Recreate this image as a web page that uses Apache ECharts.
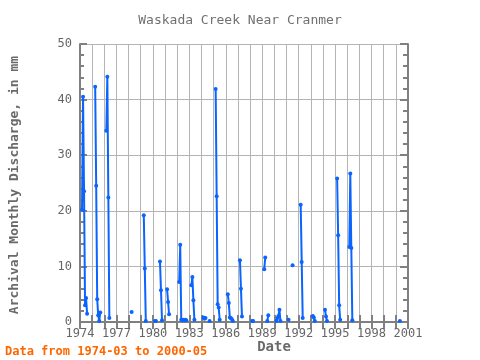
<!DOCTYPE html>
<html>
<head>
<meta charset="utf-8">
<script src="https://cdn.jsdelivr.net/npm/echarts@6/dist/echarts.min.js"></script>
<style>
html,body{margin:0;padding:0;background:#fff;}
#c{width:480px;height:360px;}
</style>
</head>
<body>
<div id="c"></div>
<script>
// Monthly observations (YYYY-MM) and discharge values (mm)
var months = [
  '1974-03','1974-04','1974-05','1974-06','1974-07','1974-08',
  '1975-04','1975-05','1975-06','1975-07','1975-08','1975-09',
  '1976-03','1976-04','1976-05','1976-06',
  '1978-04',
  '1979-04','1979-05','1979-06',
  '1980-03','1980-04','1980-08','1980-09','1980-10',
  '1981-03','1981-04','1981-05',
  '1982-03','1982-04','1982-05','1982-06','1982-07','1982-08','1982-09','1982-10',
  '1983-03','1983-04','1983-05','1983-06',
  '1984-03','1984-04','1984-05','1984-09',
  '1985-03','1985-04','1985-05','1985-06','1985-07',
  '1986-03','1986-04','1986-05','1986-06','1986-07','1986-08',
  '1987-03','1987-04','1987-05',
  '1988-03','1988-04',
  '1989-03','1989-04','1989-06','1989-07',
  '1990-03','1990-04','1990-05','1990-06','1990-07',
  '1991-03','1991-07',
  '1992-03','1992-04','1992-05',
  '1993-03','1993-04','1993-05',
  '1994-03','1994-04','1994-05',
  '1995-03','1995-04','1995-05','1995-06',
  '1996-03','1996-04','1996-05','1996-06',
  '2000-05'
];
var discharge = [
  20.2,40.5,23.5,3.0,4.3,1.5,
  42.3,24.5,4.1,1.2,0.2,1.7,
  34.4,44.1,22.4,0.7,
  1.8,
  19.2,9.6,0.2,
  0.2,0.2,10.9,5.7,0.3,
  5.9,3.6,1.4,
  7.2,13.9,0.4,0.3,0.4,0.3,0.4,0.3,
  6.6,8.1,3.9,0.4,
  0.8,0.6,0.7,0.2,
  41.9,22.6,3.2,2.6,0.4,
  5.0,3.4,0.8,0.7,0.5,0.2,
  11.1,6.0,1.0,
  0.2,0.2,
  9.5,11.6,0.2,1.2,
  0.2,0.7,1.1,2.2,0.2,
  0.4,10.2,
  21.1,10.8,0.7,
  1.1,0.8,0.2,
  2.2,1.0,0.2,
  25.8,15.6,3.0,0.4,
  13.5,26.7,13.3,0.3,
  0.2
];
var yTicks = [0,10,20,30,40,50];
var xStart = 1974, xEnd = 2001, xLabelStep = 3;
var titleText = 'Waskada Creek Near Cranmer';
var yName = 'Archival Monthly Discharge, in mm';
var xName = 'Date';
var footText = 'Data from 1974-03 to 2000-05';

// build [decimalYear, value] pairs with breaks at missing months
var seriesData = [];
var prevIdx = null;
for (var i = 0; i < months.length; i++) {
  var p = months[i].split('-');
  var y = +p[0], m = +p[1];
  var idx = y * 12 + (m - 1);
  var xv = y + (m - 1) / 12;
  if (prevIdx !== null && idx - prevIdx > 1) {
    seriesData.push([xv - 0.5 / 12, null]);
  }
  seriesData.push([xv, discharge[i]]);
  prevIdx = idx;
}

var font = '"DejaVu Sans Mono", "Liberation Mono", monospace';
var frame = '#808080';
var grid = '#b4b4b4';
var txt = '#666666';

var chart = echarts.init(document.getElementById('c'), null, {renderer: 'canvas'});
chart.setOption({
  animation: false,
  backgroundColor: '#ffffff',
  title: {
    text: titleText, left: 'center', top: 9,
    textStyle: {fontFamily: font, fontSize: 13, fontWeight: 'normal', color: '#707070'}
  },
  grid: {left: 80, right: 72, top: 44, bottom: 38},
  xAxis: [{
    type: 'value', min: xStart, max: xEnd, interval: 1, position: 'bottom',
    axisLine: {lineStyle: {color: frame, width: 2}},
    axisTick: {inside: true, length: 7, lineStyle: {color: frame, width: 2}},
    axisLabel: {
      fontFamily: font, fontSize: 12, color: txt, margin: 6, showMaxLabel: true, showMinLabel: true,
      formatter: function (v) { return ((v - xStart) % xLabelStep === 0) ? String(v) : ''; }
    },
    splitLine: {show: true, lineStyle: {color: grid, width: 1}}
  }, {
    type: 'value', min: xStart, max: xEnd, interval: 1, position: 'top',
    axisLine: {lineStyle: {color: frame, width: 2}},
    axisTick: {inside: true, length: 7, lineStyle: {color: frame, width: 2}},
    axisLabel: {show: false}, splitLine: {show: false}
  }],
  yAxis: [{
    type: 'value', min: yTicks[0], max: yTicks[yTicks.length - 1], interval: yTicks[1] - yTicks[0], position: 'left',
    axisLine: {show: true, lineStyle: {color: frame, width: 2}},
    axisTick: {show: true, inside: true, length: 7, lineStyle: {color: frame, width: 2}},
    minorTick: {show: true, splitNumber: 5, length: 4, lineStyle: {color: frame, width: 2}},
    axisLabel: {fontFamily: font, fontSize: 12, color: txt, margin: 8},
    splitLine: {show: true, lineStyle: {color: grid, width: 1}}
  }, {
    type: 'value', min: yTicks[0], max: yTicks[yTicks.length - 1], interval: yTicks[1] - yTicks[0], position: 'right',
    axisLine: {show: true, lineStyle: {color: frame, width: 2}},
    axisTick: {show: true, inside: true, length: 8, lineStyle: {color: frame, width: 2}},
    minorTick: {show: true, splitNumber: 5, length: 5, lineStyle: {color: frame, width: 2}},
    axisLabel: {show: false}, splitLine: {show: false}
  }],
  series: [{
    type: 'line', xAxisIndex: 0, yAxisIndex: 0,
    data: seriesData, connectNulls: false,
    showSymbol: true, symbol: 'circle', symbolSize: 4,
    itemStyle: {color: '#0a64ff'},
    lineStyle: {color: '#0a64ff', width: 2}
  }],
  graphic: [{
    type: 'text', x: 15, y: 185,
    rotation: Math.PI / 2,
    style: {text: yName, font: 'bold 13px ' + font, fill: '#6a6a6a', textAlign: 'center', textVerticalAlign: 'middle'}
  }, {
    type: 'text', x: 274, y: 347,
    style: {text: xName, font: 'bold 14px ' + font, fill: '#6a6a6a', textAlign: 'center', textVerticalAlign: 'middle'}
  }, {
    type: 'text', x: 5, y: 352,
    style: {text: footText, font: 'bold 12px ' + font, fill: '#ff6600', textAlign: 'left', textVerticalAlign: 'middle'}
  }]
});
</script>
</body>
</html>
